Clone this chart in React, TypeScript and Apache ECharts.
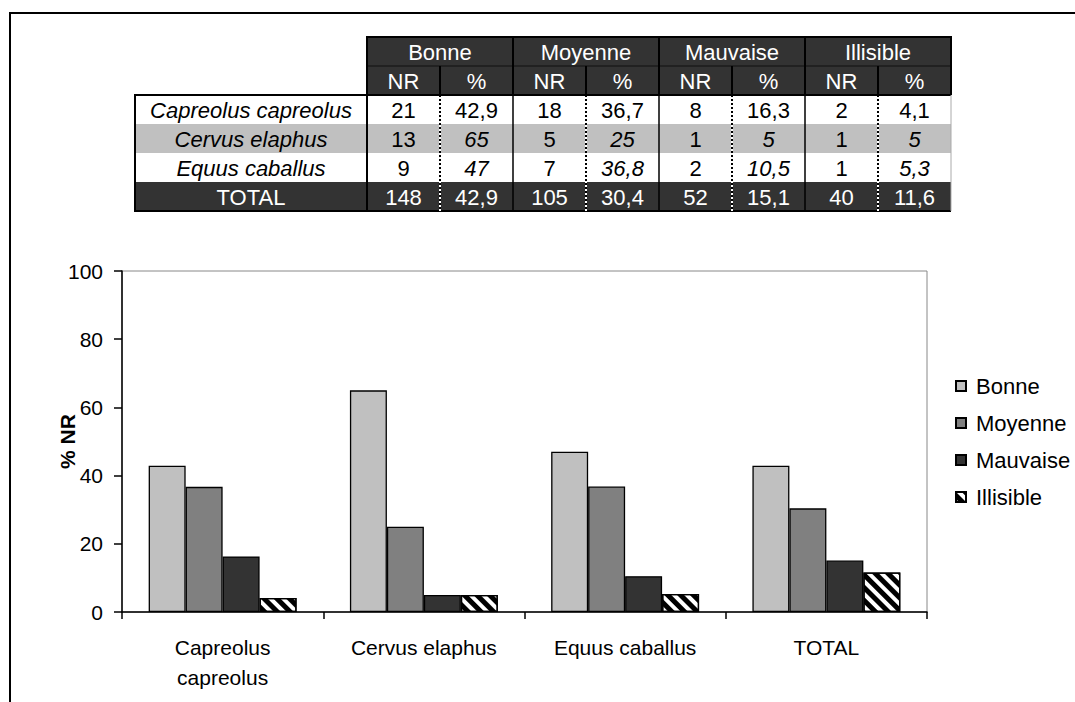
import React, { useEffect, useRef } from "react";
import * as echarts from "echarts";

// ---- data ----
const species = ["Capreolus capreolus", "Cervus elaphus", "Equus caballus", "TOTAL"];
const axisCategories = ["Capreolus\ncapreolus", "Cervus elaphus", "Equus caballus", "TOTAL"];
const states = ["Bonne", "Moyenne", "Mauvaise", "Illisible"];
const subHeaders = ["NR", "%"];

const nrBonne = [21, 13, 9, 148];
const nrMoyenne = [18, 5, 7, 105];
const nrMauvaise = [8, 1, 2, 52];
const nrIllisible = [2, 1, 1, 40];

const pctBonne = [42.9, 65, 47, 42.9];
const pctMoyenne = [36.7, 25, 36.8, 30.4];
const pctMauvaise = [16.3, 5, 10.5, 15.1];
const pctIllisible = [4.1, 5, 5.3, 11.6];

const yTicks = { min: 0, max: 100, interval: 20 };

const nrByState = [nrBonne, nrMoyenne, nrMauvaise, nrIllisible];
const pctByState = [pctBonne, pctMoyenne, pctMauvaise, pctIllisible];

// ---- styles ----
const FONT = '"Liberation Sans", Arial, Helvetica, sans-serif';
const FS = 21;
const TFS = 22;
const barColors = ["#c0c0c0", "#808080", "#333333", "#ffffff"];
const italicPctRows = [false, true, true, false];
const rowFills = ["#ffffff", "#c0c0c0", "#ffffff", "#333333"];

const fmt = (v: number) => String(v).replace(".", ",");

function buildTable() {
  const els: any[] = [];
  const x0 = 135;
  const x1 = 367;
  const subW = 73;
  const grpW = subW * 2;
  const xEnd = x1 + grpW * 4;
  const y0 = 37;
  const rowH = 29;
  const dataY = y0 + rowH * 2;
  const yEnd = dataY + rowH * 4;

  const rect = (x: number, y: number, w: number, h: number, fill: string) => ({
    type: "rect",
    silent: true,
    shape: { x, y, width: w, height: h },
    style: { fill },
  });
  const line = (x1_: number, y1: number, x2: number, y2: number, stroke: string, lw: number, dash?: number[]) => ({
    type: "line",
    silent: true,
    shape: { x1: x1_, y1, x2, y2 },
    style: { stroke, lineWidth: lw, lineDash: dash },
  });
  const txt = (x: number, y: number, text: string, fill: string, italic = false) => ({
    type: "text",
    silent: true,
    x,
    y,
    style: {
      text,
      fill,
      fontSize: TFS,
      fontFamily: FONT,
      fontStyle: italic ? "italic" : "normal",
      align: "center",
      verticalAlign: "middle",
    },
  });

  // header background
  els.push(rect(x1, y0, xEnd - x1, rowH * 2, "#333333"));
  // data rows backgrounds
  species.forEach((_, r) => {
    els.push(rect(x0, dataY + r * rowH, xEnd - x0, rowH, rowFills[r]));
  });

  // header lines
  els.push(line(x1, y0 + rowH, xEnd, y0 + rowH, "#111111", 1));
  for (let g = 0; g <= 4; g++) {
    const gx = x1 + g * grpW;
    els.push(line(gx, y0, gx, dataY, "#000", 2));
    if (g < 4) {
      const sx = gx + subW;
      els.push(line(sx, y0 + rowH, sx, dataY, "#000", 2));
    }
  }
  els.push(line(x1 - 1, y0, xEnd + 1, y0, "#000", 2));

  // data lines
  els.push(line(x0 - 1, dataY, xEnd, dataY, "#000", 2));
  els.push(line(x0 - 1, yEnd, xEnd, yEnd, "#000", 2));
  els.push(line(x0, dataY, x0, yEnd, "#000", 2));
  els.push(line(xEnd, dataY, xEnd, yEnd, "#aaaaaa", 1));
  els.push(line(x1, dataY, x1, yEnd + 1, "#000", 2));
  for (let g = 1; g < 4; g++) {
    const gx = x1 + g * grpW;
    els.push(line(gx, dataY, gx, yEnd, "#000", 1.5));
  }
  for (let g = 0; g < 4; g++) {
    const sx = x1 + g * grpW + subW;
    els.push(line(sx, dataY, sx, yEnd, "#ffffff", 2));
    els.push(line(sx, dataY, sx, yEnd, "#000", 2, [2, 2]));
  }

  // header texts
  states.forEach((s, g) => {
    const gx = x1 + g * grpW;
    els.push(txt(gx + grpW / 2, y0 + rowH / 2 + 1, s, "#ffffff"));
    subHeaders.forEach((h, k) => {
      els.push(txt(gx + subW * k + subW / 2, y0 + rowH * 1.5 + 1, h, "#ffffff"));
    });
  });

  // data texts
  species.forEach((sp, r) => {
    const cy = dataY + r * rowH + rowH / 2 + 1;
    const isTotal = r === species.length - 1;
    const fill = isTotal ? "#ffffff" : "#000000";
    els.push(txt((x0 + x1) / 2, cy, sp, fill, !isTotal));
    states.forEach((_, g) => {
      const gx = x1 + g * grpW;
      els.push(txt(gx + subW / 2, cy, String(nrByState[g][r]), fill));
      els.push(txt(gx + subW * 1.5, cy, fmt(pctByState[g][r]), fill, italicPctRows[r]));
    });
  });

  return els;
}

export default function App() {
  const ref = useRef<HTMLDivElement>(null);

  useEffect(() => {
    if (!ref.current) return;
    const chart = echarts.init(ref.current, undefined, { renderer: "svg" });

    const option: any = {
      animation: false,
      backgroundColor: "#ffffff",
      textStyle: { fontFamily: FONT },
      grid: {
        left: 122,
        top: 271,
        right: 148,
        bottom: 90,
        show: true,
        borderColor: "#888888",
        borderWidth: 1,
        backgroundColor: "transparent",
      },
      legend: {
        orient: "vertical",
        left: 955,
        top: 375,
        itemWidth: 10,
        itemHeight: 10,
        itemGap: 15,
        padding: 0,
        icon: "rect",
        selectedMode: false,
        textStyle: { fontSize: TFS, color: "#000", fontFamily: FONT, lineHeight: 22, padding: [0, 0, 0, 5] },
        data: states,
      },
      xAxis: {
        type: "category",
        data: axisCategories,
        axisLine: { show: true, lineStyle: { color: "#000", width: 1.5 } },
        axisTick: { show: true, alignWithLabel: false, length: 7, lineStyle: { color: "#000", width: 1.5 } },
        axisLabel: { fontSize: FS, color: "#000", fontFamily: FONT, margin: 20, lineHeight: 30, interval: 0 },
        splitLine: { show: false },
      },
      yAxis: {
        type: "value",
        min: yTicks.min,
        max: yTicks.max,
        interval: yTicks.interval,
        name: "% NR",
        nameLocation: "middle",
        nameRotate: 90,
        nameGap: 44,
        nameMoveOverlap: false,
        nameTextStyle: { fontSize: FS, fontWeight: "bold", color: "#000", fontFamily: FONT },
        axisLine: { show: true, lineStyle: { color: "#000", width: 1.5 } },
        axisTick: { show: true, inside: false, length: 8, lineStyle: { color: "#000", width: 1.5 } },
        axisLabel: { fontSize: FS, color: "#000", fontFamily: FONT, margin: 19 },
        splitLine: { show: false },
      },
      series: states.map((s, i) => ({
        name: s,
        type: "bar",
        data: pctByState[i],
        barGap: "0%",
        barCategoryGap: "26.5%",
        itemStyle: {
          color: barColors[i],
          borderColor: "#000",
          borderWidth: 1.3,
          ...(i === 3
            ? {
                decal: {
                  symbol: "rect",
                  symbolSize: 1,
                  color: "#000",
                  dashArrayX: [1, 0],
                  dashArrayY: [5, 4],
                  rotation: Math.PI / 4,
                },
              }
            : {}),
        },
      })),
      graphic: {
        elements: [
          {
            type: "rect",
            silent: true,
            shape: { x: 10, y: 13, width: 1200, height: 900 },
            style: { fill: "none", stroke: "#000", lineWidth: 2 },
          },
          ...buildTable(),
        ],
      },
    };

    chart.setOption(option);
    return () => chart.dispose();
  }, []);

  return (
    <div
      ref={ref}
      style={{ position: "fixed", left: 0, top: 0, width: 1075, height: 702, background: "#fff" }}
    />
  );
}
